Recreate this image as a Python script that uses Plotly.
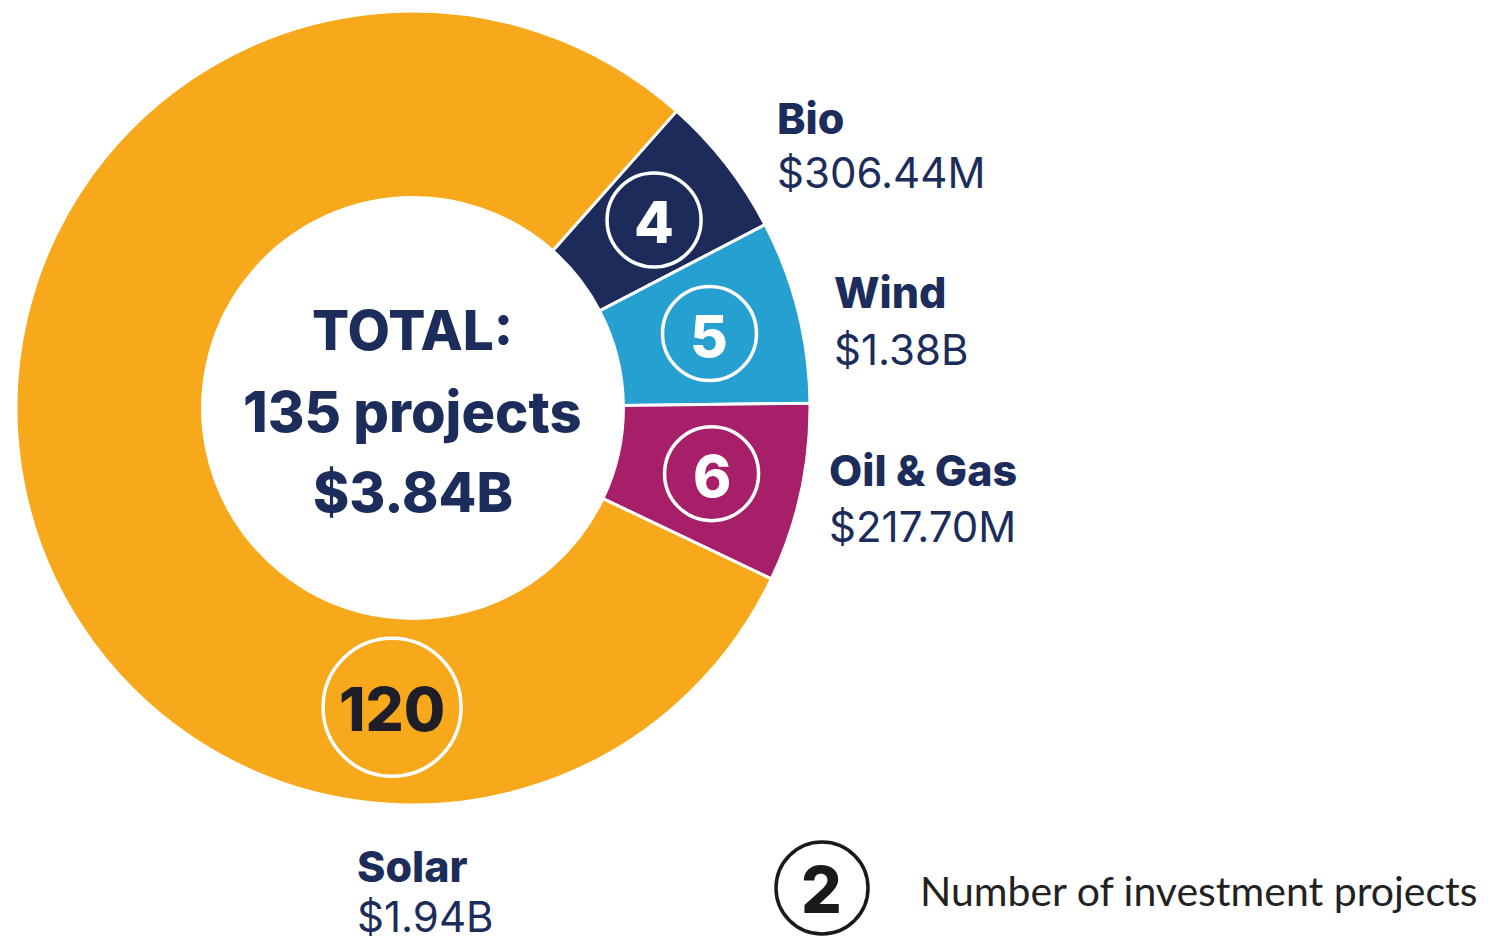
import math
import plotly.graph_objects as go

# ---------------- data ----------------
categories = ["Bio", "Wind", "Oil & Gas", "Solar"]
projects = [4, 5, 6, 120]
amounts = ["$306.44M", "$1.38B", "$217.70M", "$1.94B"]
slice_deg = [20.9, 26.8, 26.2, 286.1]   # slice sizes as drawn (degrees)
total_projects = 135
total_amount = "$3.84B"
legend_example = 2
legend_text = "Number of investment projects"

# ---------------- style ----------------
W, H = 1488, 943
OFF = 8  # page body margin
colors = ["#1C2B5A", "#269FD1", "#A61F68", "#F7A81B"]
navy = "#1C2C5B"
BOLD = "Inter"
REG = "Inter"
cx, cy, R = 413, 408, 397
hole = 0.53
rotation = 41.6

def px(x):
    return (x - OFF) / W

def py(y):
    return 1 - (y - OFF) / H

fig = go.Figure()
fig.add_trace(go.Pie(
    labels=categories,
    values=slice_deg,
    customdata=projects,
    sort=False,
    direction="clockwise",
    rotation=rotation,
    hole=hole,
    textinfo="none",
    hoverinfo="label",
    showlegend=False,
    marker=dict(colors=colors, line=dict(color="white", width=3)),
    domain=dict(x=[px(cx - R), px(cx + R)], y=[py(cy + R), py(cy - R)]),
))

shapes = []
annotations = []

# badge positions
total = sum(slice_deg)
start = 90 - rotation
cum = 0
badge_pos = []
for v in slice_deg:
    mid = start - (cum + v / 2) * 360 / total
    badge_pos.append(mid)
    cum += v
badge_pos[3] = -94  # solar badge placed near bottom
ring_mid = (R * hole + R) / 2 + 2

for i, (p, ang) in enumerate(zip(projects, badge_pos)):
    r = 69 if i == 3 else 47
    d = 300 if i == 3 else ring_mid
    bx = cx + d * math.cos(math.radians(ang))
    by = cy - d * math.sin(math.radians(ang))
    shapes.append(dict(type="circle", xref="paper", yref="paper",
                       x0=px(bx - r), x1=px(bx + r), y0=py(by + r), y1=py(by - r),
                       line=dict(color="white", width=3.5), fillcolor="rgba(0,0,0,0)"))
    annotations.append(dict(x=px(bx), y=py(by + 2), xref="paper", yref="paper",
                            text=str(p), showarrow=False, xanchor="center", yanchor="middle",
                            font=dict(family=BOLD, size=60 if i == 3 else 58,
                                      color="#1E1E28" if i == 3 else "white", weight=800)))

# centre text
for t, yy, fs in [("TOTAL:", 330, 55), (f"{total_projects} projects", 412, 56), (total_amount, 492, 55)]:
    annotations.append(dict(x=px(cx), y=py(yy), xref="paper", yref="paper", text=t,
                            showarrow=False, xanchor="center", yanchor="middle",
                            font=dict(family=BOLD, size=fs, color=navy, weight=800)))

# category labels
label_xy = [(778, 118, 173), (835, 292, 350), (830, 470, 526), (358, 866, 916)]
for name, amt, (lx, ly1, ly2) in zip(categories, amounts, label_xy):
    annotations.append(dict(x=px(lx - 3), y=py(ly1), xref="paper", yref="paper", text=name,
                            showarrow=False, xanchor="left", yanchor="middle",
                            font=dict(family=BOLD, size=43, color=navy, weight=800)))
    annotations.append(dict(x=px(lx - 3), y=py(ly2), xref="paper", yref="paper", text=amt,
                            showarrow=False, xanchor="left", yanchor="middle",
                            font=dict(family=REG, size=42, color=navy, weight=400)))

# legend
lcx, lcy, lr = 822, 888, 46
shapes.append(dict(type="circle", xref="paper", yref="paper",
                   x0=px(lcx - lr), x1=px(lcx + lr), y0=py(lcy + lr), y1=py(lcy - lr),
                   line=dict(color="#1A1A1A", width=3.5)))
annotations.append(dict(x=px(lcx), y=py(lcy + 1), xref="paper", yref="paper", text=str(legend_example),
                        showarrow=False, xanchor="center", yanchor="middle",
                        font=dict(family=BOLD, size=64, color="#1A1A1A", weight=800)))
annotations.append(dict(x=px(918), y=py(890), xref="paper", yref="paper", text=legend_text,
                        showarrow=False, xanchor="left", yanchor="middle",
                        font=dict(family="Lato", size=41, color="#222222")))

fig.update_layout(width=W, height=H, margin=dict(l=0, r=0, t=0, b=0),
                  paper_bgcolor="white", plot_bgcolor="white",
                  shapes=shapes, annotations=annotations)

fig.write_html("out.html")
